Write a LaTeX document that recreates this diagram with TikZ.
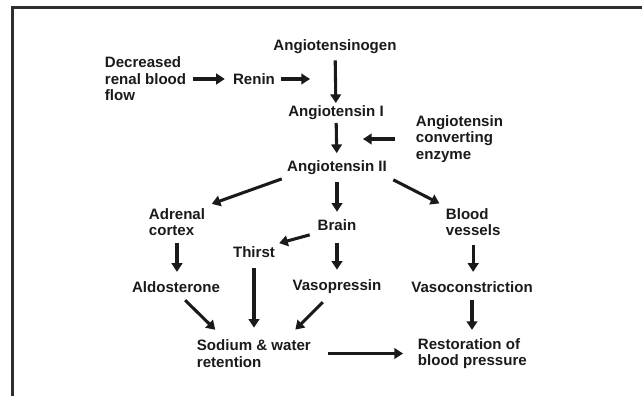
\documentclass[tikz,border=0pt]{standalone}
\usepackage{fontspec}
\setmainfont{Liberation Sans}
\usetikzlibrary{arrows.meta,positioning}
\definecolor{Ink}{HTML}{1A1A1A}
\definecolor{Edge}{HTML}{2E2E2E}

\begin{document}
\begin{tikzpicture}[x=0.75pt,y=-0.75pt,
    lab/.style={font=\fontsize{11.3}{12.4}\selectfont\bfseries,text=Ink,inner sep=2pt},
    lefty/.style={lab,align=left,anchor=west},
    flow/.style={Ink,line width=2.3pt,-{Triangle[length=6.5pt,width=8pt]}}]
  \useasboundingbox (0,0) rectangle (642,396);
  % frame, cut off at right and bottom
  \draw[Edge,line width=1.9pt] (642,7.3) -- (12.5,7.3) -- (12.5,396);

  % top: renin cascade
  \node[lefty] (dec) at (102,79) {Decreased\\renal blood\\flow};
  \node[lab] (renin) at (254,79) {Renin};
  \coordinate (rtip) at (310,79);
  \node[lab] (ang) at (335,47) {Angiotensinogen};
  \node[lab] (ang1) at (336,113) {Angiotensin I};
  \node[lefty] (ace) at (413,139) {Angiotensin\\converting\\enzyme};
  \coordinate (etip) at (363,139);
  \node[lab] (ang2) at (337,168) {Angiotensin II};

  % middle row
  \node[lefty] (adr) at (146,222) {Adrenal\\cortex};
  \node[lab] (brain) at (337,225) {Brain};
  \node[lefty] (blood) at (443,222) {Blood\\vessels};
  \node[lab] (thirst) at (254,252) {Thirst};
  \node[lab] (ald) at (176,287) {Aldosterone};
  \node[lab] (vaso) at (337,287) {Vasopressin};
  \node[lab] (vcon) at (472,287) {Vasoconstriction};

  % bottom row
  \node[lefty] (sod) at (194,353.5) {Sodium \& water\\retention};
  \node[lefty] (rest) at (415,353.5) {Restoration of\\blood pressure};

  \draw[flow,shorten <=3pt,shorten >=4pt] (dec.east) -- (renin.west);
  \draw[flow,shorten <=2.5pt] (renin.east) -- (rtip);
  \draw[flow,shorten <=2.5pt] (ang) -- (ang1);
  \draw[flow,shorten >=3.7pt] (ang1) -- (ang2);
  \draw[flow,shorten <=13.5pt] (ace.west) -- (etip);
  \draw[flow,shorten <=2pt,shorten >=3pt] (ang2.south west) -- (adr.north east);
  \draw[flow,shorten <=3.2pt,shorten >=3.6pt] (ang2) -- (brain);
  \draw[flow,shorten <=3pt,shorten >=3pt] (ang2.south east) -- (blood.north west);
  \draw[flow,shorten <=4pt,shorten >=1pt] (brain.south west) -- (thirst.north east);
  \draw[flow,shorten <=3.5pt,shorten >=5pt] (adr.south) -- (adr.south |- ald.north);
  \draw[flow,shorten <=7.3pt,shorten >=5.5pt] (brain) -- (vaso);
  \draw[flow,shorten <=5pt,shorten >=5pt] (blood.south) -- (blood.south |- vcon.north);
  \draw[flow,shorten <=5.8pt,shorten >=6.8pt] (thirst.south) -- (thirst.south |- sod.north);
  \draw[flow,shorten <=5.1pt,shorten >=7.5pt] (ald.-63) -- (sod.152);
  \draw[flow,shorten <=5.6pt,shorten >=7.6pt] (vaso.-132) -- (sod.26);
  \draw[flow,shorten <=3.6pt,shorten >=4pt] (vcon.south) -- (vcon.south |- rest.north);
  \draw[flow,shorten <=11pt,shorten >=9pt] (sod.east) -- (rest.west);
\end{tikzpicture}
\end{document}
